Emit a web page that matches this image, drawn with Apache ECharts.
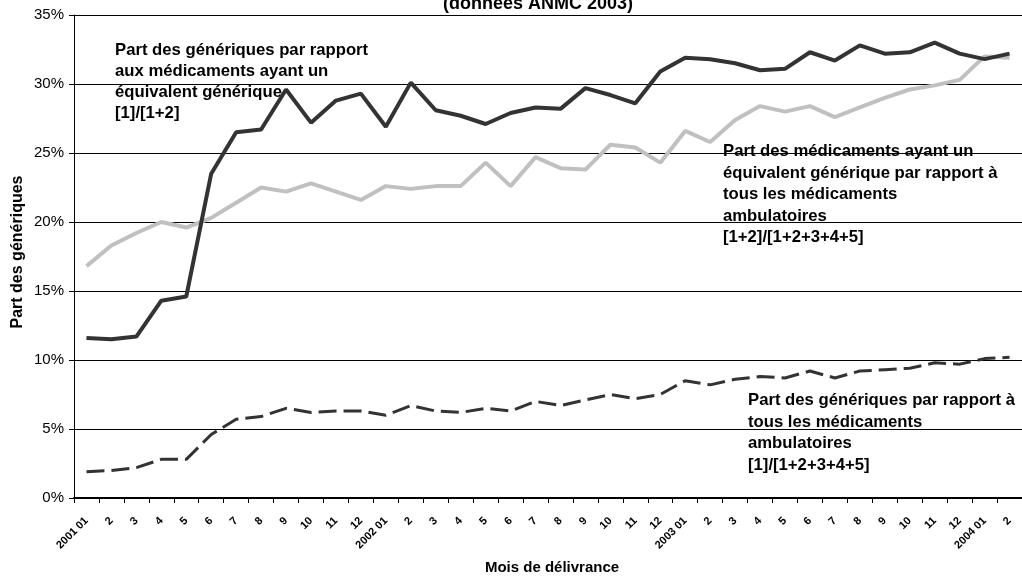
<!DOCTYPE html>
<html>
<head>
<meta charset="utf-8">
<script src="https://cdn.jsdelivr.net/npm/echarts@6/dist/echarts.min.js"></script>
<style>
html,body{margin:0;padding:0;background:#fff;}
#chart{width:1022px;height:576px;}
</style>
</head>
<body>
<div id="chart"></div>
<script>
var categories = ['2001 01','2','3','4','5','6','7','8','9','10','11','12',
  '2002 01','2','3','4','5','6','7','8','9','10','11','12',
  '2003 01','2','3','4','5','6','7','8','9','10','11','12',
  '2004 01','2'];

// [1]/[1+2]
var generiquesVsEquivalent = [11.6,11.5,11.7,14.3,14.6,23.5,26.5,26.7,29.6,27.2,28.8,29.3,
  26.9,30.1,28.1,27.7,27.1,27.9,28.3,28.2,29.7,29.2,28.6,30.9,
  31.9,31.8,31.5,31.0,31.1,32.3,31.7,32.8,32.2,32.3,33.0,32.2,
  31.8,32.2];

// [1+2]/[1+2+3+4+5]
var equivalentsVsTous = [16.8,18.3,19.2,20.0,19.6,20.3,21.4,22.5,22.2,22.8,22.2,21.6,
  22.6,22.4,22.6,22.6,24.3,22.6,24.7,23.9,23.8,25.6,25.4,24.3,
  26.6,25.8,27.4,28.4,28.0,28.4,27.6,28.3,29.0,29.6,29.9,30.3,
  32.0,31.9];

// [1]/[1+2+3+4+5]
var generiquesVsTous = [1.9,2.0,2.2,2.8,2.8,4.6,5.7,5.9,6.5,6.2,6.3,6.3,
  6.0,6.7,6.3,6.2,6.5,6.3,7.0,6.7,7.1,7.5,7.2,7.5,
  8.5,8.2,8.6,8.8,8.7,9.2,8.7,9.2,9.3,9.4,9.8,9.7,
  10.1,10.2];

var yTicks = {min: 0, max: 35, interval: 5};

var FONT = '"Liberation Sans", Arial, sans-serif';

var chart = echarts.init(document.getElementById('chart'), null, {renderer: 'canvas'});

chart.setOption({
  animation: false,
  backgroundColor: '#ffffff',
  grid: {left: 74, top: 15, right: -9, bottom: 78, containLabel: false},
  xAxis: {
    type: 'category',
    data: categories,
    boundaryGap: true,
    axisLine: {show: true, lineStyle: {color: '#000', width: 2}},
    axisTick: {show: true, interval: 0, length: 5, lineStyle: {color: '#000', width: 1}},
    axisLabel: {
      interval: 0, rotate: 45, margin: 21,
      fontFamily: FONT, fontWeight: 'bold', fontSize: 11, color: '#000'
    },
    splitLine: {show: false}
  },
  yAxis: {
    type: 'value',
    min: yTicks.min, max: yTicks.max, interval: yTicks.interval,
    axisLine: {show: true, lineStyle: {color: '#000', width: 1}},
    axisTick: {show: true, length: 5, lineStyle: {color: '#000'}},
    axisLabel: {formatter: '{value}%', margin: 10, fontFamily: FONT, fontSize: 15, color: '#000'},
    splitLine: {show: true, lineStyle: {color: '#000', width: 1}}
  },
  series: [
    {
      name: '[1+2]/[1+2+3+4+5]', type: 'line', data: equivalentsVsTous,
      symbol: 'none', lineStyle: {color: '#c0c0c0', width: 4}, z: 2
    },
    {
      name: '[1]/[1+2]', type: 'line', data: generiquesVsEquivalent,
      symbol: 'none', lineStyle: {color: '#333333', width: 4}, z: 3
    },
    {
      name: '[1]/[1+2+3+4+5]', type: 'line', data: generiquesVsTous,
      symbol: 'none', lineStyle: {color: '#333333', width: 3, type: [18, 7]}, z: 3
    }
  ],
  graphic: [
    {type: 'text', x: 538, y: 4, style: {
      text: '(données ANMC 2003)', font: 'bold 18px ' + FONT, fill: '#000',
      textAlign: 'center', textVerticalAlign: 'middle'}},
    {type: 'text', x: 18, y: 252, rotation: Math.PI / 2, style: {
      text: 'Part des génériques', font: 'bold 16px ' + FONT, fill: '#000',
      textAlign: 'center', textVerticalAlign: 'middle'}},
    {type: 'text', x: 552, y: 568, style: {
      text: 'Mois de délivrance', font: 'bold 15px ' + FONT, fill: '#000',
      textAlign: 'center', textVerticalAlign: 'middle'}},
    {type: 'text', x: 115, y: 40, style: {
      text: 'Part des génériques par rapport\naux médicaments ayant un\néquivalent générique\n[1]/[1+2]',
      font: 'bold 16.7px ' + FONT, fill: '#000', lineHeight: 21, textVerticalAlign: 'top'}},
    {type: 'text', x: 723, y: 141, style: {
      text: 'Part des médicaments ayant un\néquivalent générique par rapport à\ntous les médicaments\nambulatoires\n[1+2]/[1+2+3+4+5]',
      font: 'bold 16.7px ' + FONT, fill: '#000', lineHeight: 21.5, textVerticalAlign: 'top'}},
    {type: 'text', x: 748, y: 390, style: {
      text: 'Part des génériques par rapport à\ntous les médicaments\nambulatoires\n[1]/[1+2+3+4+5]',
      font: 'bold 16.7px ' + FONT, fill: '#000', lineHeight: 21.5, textVerticalAlign: 'top'}}
  ]
});
</script>
</body>
</html>
